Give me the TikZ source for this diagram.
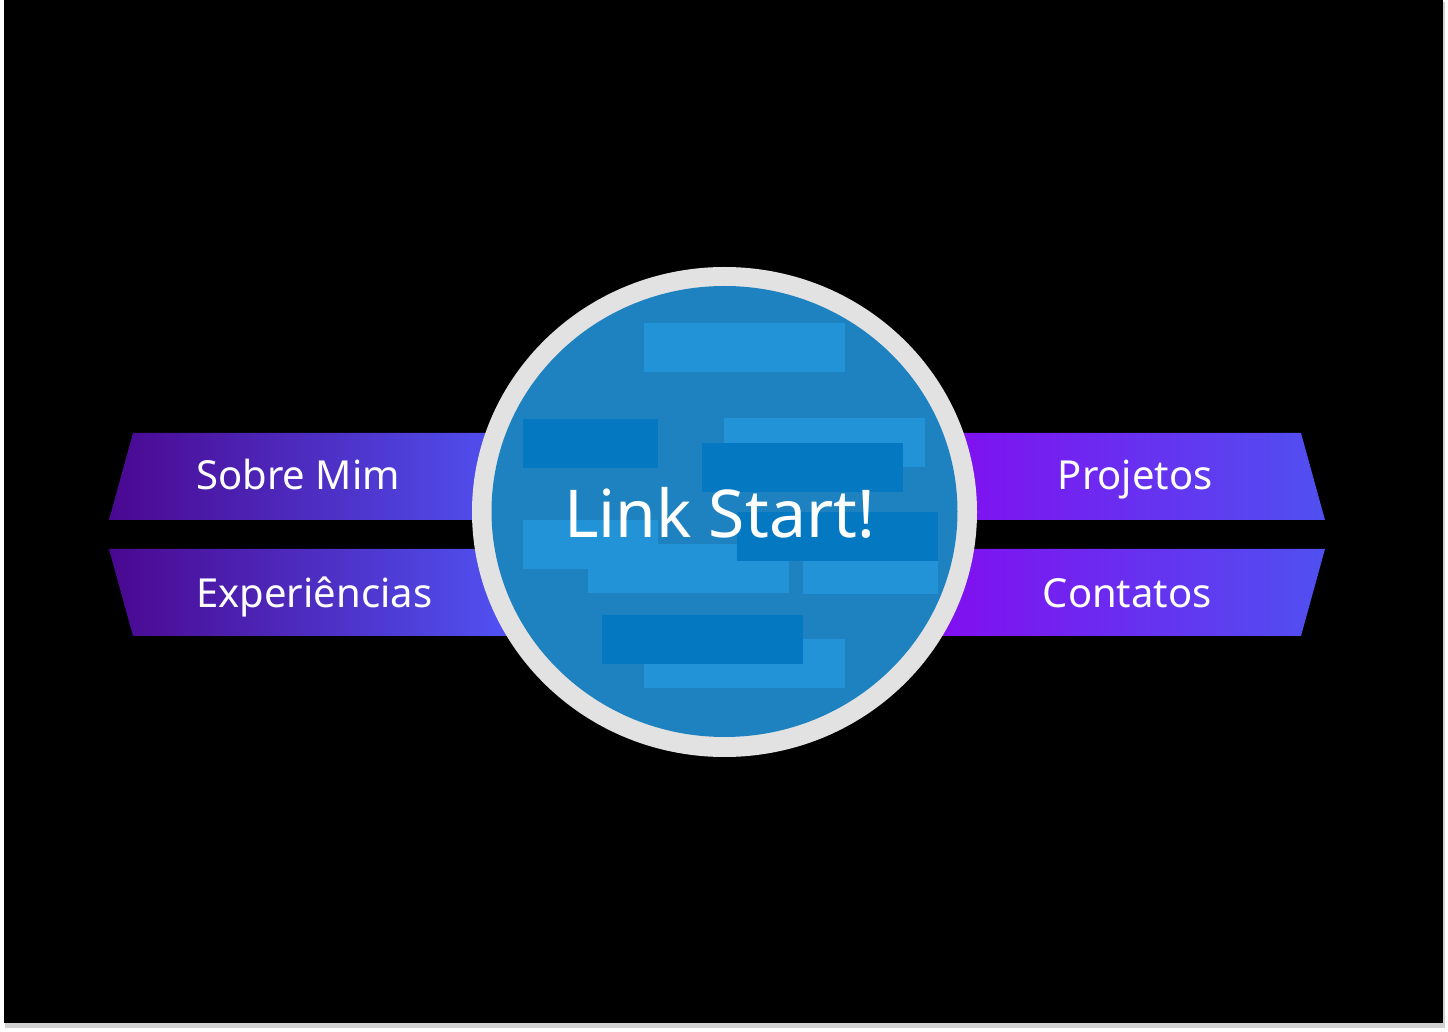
\documentclass[tikz,border=0pt]{standalone}
\usepackage{fontspec}
\newfontfamily\menufont{Noto Sans}
\definecolor{ringgray}{HTML}{E2E2E2}
\definecolor{globeblue}{HTML}{1E82C0}
\definecolor{barlight}{HTML}{2293D6}
\definecolor{bardark}{HTML}{0479C2}
\definecolor{leftpurple}{HTML}{4A0890}
\definecolor{midblue}{HTML}{5050F0}
\definecolor{violet}{HTML}{8010F0}
\tikzset{
	menulabel/.style={inner sep=0pt, text=white, font=\menufont\fontsize{20}{24}\selectfont},
	titlelabel/.style={inner sep=0pt, text=white, font=\menufont\fontsize{33}{40}\selectfont},
	lightbar/.style={fill=barlight},
	darkbar/.style={fill=bardark}
}
\begin{document}
\begin{tikzpicture}[x=0.5pt, y=-0.5pt]
		\useasboundingbox (0, 0) rectangle (1448, 1032);
		\fill[white] (0, 0) rectangle (1448, 1032);          % Fundo da pagina
		\fill[black!18] (5, 2) rectangle (1445, 1028);      % Sombra
		\fill[black] (4, 0) rectangle (1443, 1023);         % Quadro preto
	
		% Faixas da esquerda
		\fill[midblue] (499, 433) rectangle (724, 520);
		\fill[midblue] (499, 549) rectangle (724, 636);
		\shade[left color=leftpurple, right color=midblue] (133, 433) -- (500, 433) -- (500, 520) -- (109, 520) -- cycle;
		\shade[left color=leftpurple, right color=midblue] (109, 549) -- (500, 549) -- (500, 636) -- (133, 636) -- cycle;
		% Faixas da direita
		\fill[violet] (724, 433) rectangle (951, 520);
		\fill[violet] (724, 549) rectangle (951, 636);
		\shade[left color=violet, right color=midblue] (950, 433) -- (1301, 433) -- (1325, 520) -- (950, 520) -- cycle;
		\shade[left color=violet, right color=midblue] (950, 549) -- (1325, 549) -- (1301, 636) -- (950, 636) -- cycle;
		
		\fill[ringgray] (724.5, 512) ellipse [x radius=252.5, y radius=245];   % Anel
		\fill[globeblue] (724.5, 511.5) ellipse [x radius=233, y radius=225.5]; % Globo
		
		\foreach \xa/\ya/\wa in {644/323/201, 724/418/201, 523/520/135, 588/544/201, 803/545/135, 644/639/201}
			\fill[lightbar] (\xa, \ya) rectangle ++(\wa, 49);  % Barras claras
		\foreach \xa/\ya/\wa in {523/419/135, 702/443/201, 737/512/201, 602/615/201}
			\fill[darkbar] (\xa, \ya) rectangle ++(\wa, 49);   % Barras escuras
	
		\node[titlelabel, anchor=base] (link) at (719.5, 538) {Link Start!};
		
		\node[menulabel, anchor=base west] (sobre) at (196, 490) {Sobre Mim};
		\node[menulabel, anchor=base west] (exper) at (196, 608) {Experiências};
		\node[menulabel, anchor=base east] (projetos) at (1213, 490) {Projetos};
		\node[menulabel, anchor=base east] (contatos) at (1212, 608) {Contatos};
\end{tikzpicture}
\end{document}
